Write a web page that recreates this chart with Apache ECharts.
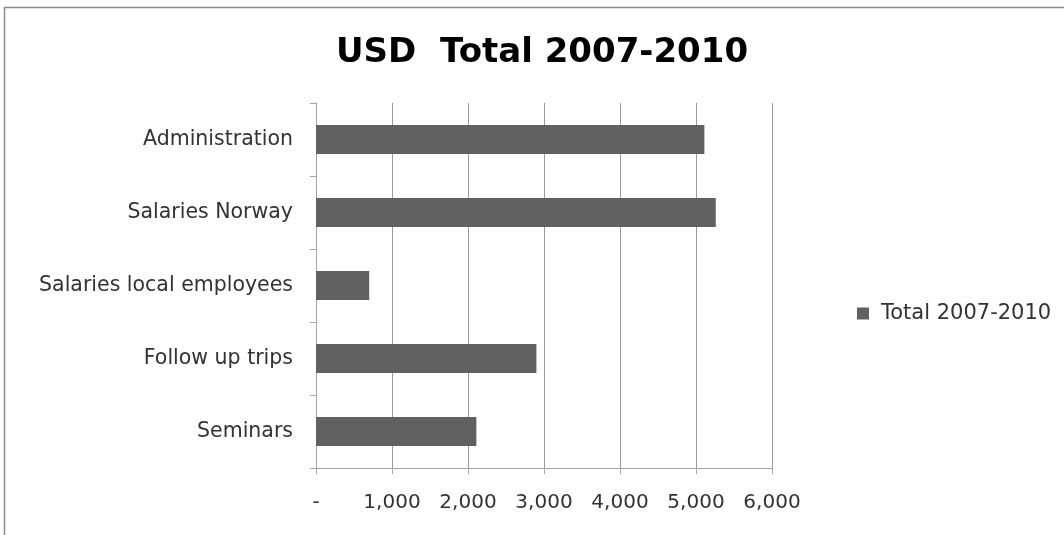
<!DOCTYPE html>
<html>
<head>
<meta charset="utf-8">
<script src="https://cdn.jsdelivr.net/npm/echarts@6/dist/echarts.min.js"></script>
<style>html,body{margin:0;padding:0;background:#fff}#c{width:1064px;height:535px}</style>
</head>
<body>
<div id="c"></div>
<script>
const categories = ['Seminars', 'Follow up trips', 'Salaries local employees', 'Salaries Norway', 'Administration'];
const seriesName = 'Total 2007-2010';
const values = [2110, 2900, 700, 5260, 5110];
const xTicks = { min: 0, max: 6000, interval: 1000 };

const chart = echarts.init(document.getElementById('c'));
const font = '"DejaVu Sans", "Open Sans", sans-serif';
chart.setOption({
  animation: false,
  backgroundColor: '#fff',
  title: {
    text: 'USD  Total 2007-2010',
    left: 537, top: 31, textAlign: 'center',
    textStyle: { fontFamily: font, fontSize: 34, fontWeight: 'bold', color: '#000' }
  },
  graphic: [{
    type: 'rect', silent: true,
    shape: { x: 4.5, y: 7.5, width: 2000, height: 2000 },
    style: { fill: 'none', stroke: '#8c8c8c', lineWidth: 1.5 }
  }],
  legend: {
    data: [seriesName], left: 852, top: 298, orient: 'vertical',
    icon: 'rect', itemWidth: 12, itemHeight: 12, itemGap: 10,
    textStyle: { fontFamily: font, fontSize: 21, color: '#333', padding: [0, 0, 0, 7] }
  },
  grid: { left: 316, right: 292, top: 103, bottom: 67, containLabel: false },
  xAxis: {
    type: 'value', min: xTicks.min, max: xTicks.max, interval: xTicks.interval,
    axisLine: { show: true, lineStyle: { color: '#a6a6a6' } },
    axisTick: { show: true, length: 6, lineStyle: { color: '#a6a6a6' } },
    splitLine: { show: true, lineStyle: { color: '#9a9a9a', width: 1 } },
    axisLabel: {
      fontFamily: font, fontSize: 20, color: '#333', margin: 25,
      formatter: v => v === 0 ? '-' : v.toLocaleString('en-US')
    }
  },
  yAxis: {
    type: 'category', data: categories,
    axisLine: { show: true, lineStyle: { color: '#a6a6a6' } },
    axisTick: { show: true, length: 6, lineStyle: { color: '#a6a6a6' } },
    axisLabel: { fontFamily: font, fontSize: 20.5, color: '#333', margin: 23 }
  },
  series: [{
    name: seriesName, type: 'bar', data: values,
    barCategoryGap: '60%',
    itemStyle: { color: '#616161' }
  }]
});
</script>
</body>
</html>
